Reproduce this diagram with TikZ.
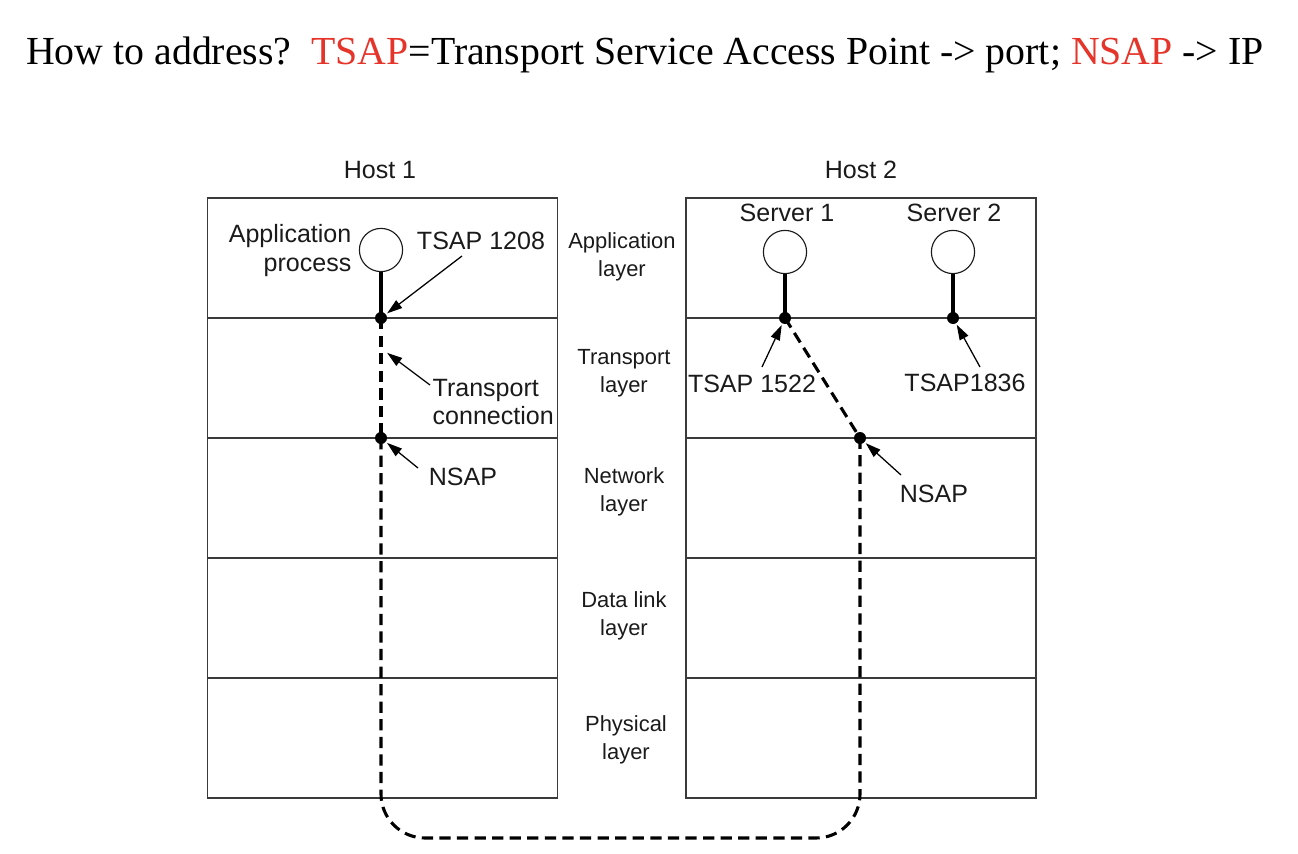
\documentclass[tikz,border=0pt]{standalone}
\usepackage{fontspec}
\setmainfont{Liberation Serif}
\newfontfamily\diagfont{Liberation Sans}
\usepackage{tikz}
\usetikzlibrary{arrows.meta,positioning,calc}
\definecolor{AddrRed}{HTML}{E5352A}
\definecolor{AddrInk}{HTML}{1A1A1A}
\definecolor{AddrLine}{HTML}{3A3A3A}
\newcommand{\lbl}{\diagfont\fontsize{17.8}{20.6}\selectfont}
\newcommand{\lyr}{\diagfont\fontsize{15.6}{20}\selectfont}

\begin{document}
\begin{tikzpicture}[x=0.025cm,y=-0.025cm,
  layerbox/.style={draw=AddrLine,line width=0.8pt,minimum width=8.75cm,minimum height=3cm,inner sep=0pt},
  proc/.style={circle,draw=AddrInk,line width=0.8pt,minimum size=1.08cm,inner sep=0pt},
  sap/.style={circle,fill=black,minimum size=0.3cm,inner sep=0pt},
  stem/.style={line width=2.3pt,black},
  conn/.style={line width=2.2pt,black,dash pattern=on 8pt off 4.5pt},
  arr/.style={-{Triangle[length=3.8mm,width=2.4mm]},line width=0.9pt,black,shorten >=1pt},
  note/.style={font=\lbl,text=AddrInk,align=center,inner sep=1pt},
  layername/.style={font=\lyr,text=AddrInk,align=center,inner sep=1pt},
]
\useasboundingbox (0,0) rectangle (1298,854);
% title line
\node[font=\fontsize{28.3}{32}\selectfont,anchor=base] (title) at (645,65)
  {How to address?\ \ \textcolor{AddrRed}{TSAP}=Transport Service Access Point -> port; \textcolor{AddrRed}{NSAP} -> IP};

% the two layer stacks
\foreach \i in {0,...,4} {
  \node[layerbox] (a\i) at (382.5,258+120*\i) {};
  \node[layerbox] (b\i) at (861,258+120*\i) {};
}
\node[note] (host1) at (380,170) {Host 1};
\node[note] (host2) at (861,170) {Host 2};

% layer names between the stacks
\node[layername] (lapp) at (622,257) {Application\\layer};
\node[layername] (ltra) at (624,373) {Transport\\layer};
\node[layername] (lnet) at (624,492) {Network\\layer};
\node[layername] (llnk) at (624,616) {Data link\\layer};
\node[layername] (lphy) at (626,740) {Physical\\layer};

% processes and access points
\node[proc] (app) at (381,250) {};
\node[proc] (srv1) at (785,252) {};
\node[proc] (srv2) at (953,252) {};
\node[sap] (t1) at (381,318) {};
\node[sap] (n1) at (381,438) {};
\node[sap] (t2) at (785,318) {};
\node[sap] (t3) at (953,318) {};
\node[sap] (n2) at (860,438) {};
\draw[stem] (app.south) -- (t1.center);
\draw[stem] (srv1.south) -- (t2.center);
\draw[stem] (srv2.south) -- (t3.center);

% transport connection
\coordinate (low) at (0,838);
\draw[conn] (t1.center) -- (n1.center);
\draw[conn] (t2.center) -- (n2.center);
\draw[conn,rounded corners=1.1cm] (n1.center) -- (n1 |- low) -- (n2 |- low) -- (n2.center);

% labels
\node[note,anchor=east,align=right] (appname) at (353,251) {Application\\process};
\node[note] (tsapA) at (481,241) {TSAP 1208};
\node[note,anchor=west,align=left] (tconn) at (431,402) {Transport\\connection};
\node[note] (nsapA) at (463,477) {NSAP};
\node[note] (srvname1) at (787,213) {Server 1};
\node[note] (srvname2) at (954,213) {Server 2};
\node[note] (tsapB) at (752,384) {TSAP 1522};
\node[note] (tsapC) at (965,383) {TSAP1836};
\node[note] (nsapB) at (934,494) {NSAP};

% pointers
\coordinate (pA) at (462,256);
\coordinate (pT) at (430,385);
\coordinate (pTend) at (386,352);
\coordinate (pN) at (418,468);
\coordinate (pB) at (762,367);
\coordinate (pC) at (980,367);
\coordinate (pM) at (901,475);
\draw[arr] (pA) -- (t1);
\draw[arr] (pT) -- (pTend);
\draw[arr] (pN) -- (n1);
\draw[arr] (pB) -- (t2);
\draw[arr] (pC) -- (t3);
\draw[arr] (pM) -- (n2);
\end{tikzpicture}
\end{document}
